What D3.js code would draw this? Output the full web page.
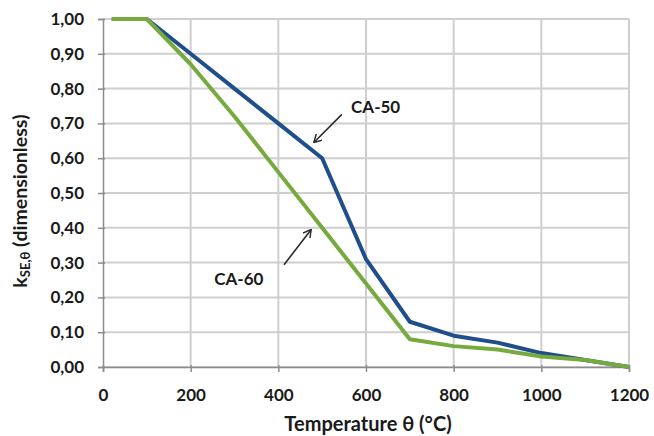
<!DOCTYPE html>
<html>
<head>
<meta charset="utf-8">
<title>ksE,θ</title>
<script src="https://cdn.jsdelivr.net/npm/d3@7"></script>
<style>
body { margin:0; background:#fff; }
svg text { font-family: Lato, "Open Sans", sans-serif; font-weight:700; fill:#1a1a1a; }
</style>
</head>
<body>
<div id="chart"></div>
<script>
var w=654,h=436;
var margin={left:103,right:25,top:19,bottom:69};

// data
var temps=[20,100,200,300,400,500,600,700,800,900,1000,1100,1200];
var ca50=[1.00,1.00,0.90,0.80,0.70,0.60,0.31,0.13,0.09,0.07,0.04,0.02,0.00];
var ca60=[1.00,1.00,0.87,0.72,0.56,0.40,0.24,0.08,0.06,0.05,0.03,0.02,0.00];
var xTicks=[0,200,400,600,800,1000,1200];
var yTicks=[0,0.1,0.2,0.3,0.4,0.5,0.6,0.7,0.8,0.9,1.0];

var svg=d3.select('#chart').append('svg')
  .attr('width',w).attr('height',h);

var x=d3.scaleLinear().domain([0,1200]).range([margin.left,w-margin.right]);
var y=d3.scaleLinear().domain([0,1]).range([h-margin.bottom,margin.top]);

// grid
svg.append('g').selectAll('line').data(yTicks).enter().append('line')
  .attr('x1',x(0)).attr('x2',x(1200))
  .attr('y1',function(d){return y(d);}).attr('y2',function(d){return y(d);})
  .attr('stroke','#cfcfcf').attr('stroke-width',2);
svg.append('g').selectAll('line').data(xTicks.slice(1)).enter().append('line')
  .attr('x1',function(d){return x(d);}).attr('x2',function(d){return x(d);})
  .attr('y1',y(0)).attr('y2',y(1))
  .attr('stroke','#cfcfcf').attr('stroke-width',2);

var fmt=function(d){return d3.format('.2f')(d).replace('.',',');};

var yAxis=svg.append('g').attr('transform','translate('+x(0)+',0)')
  .call(d3.axisLeft(y).tickValues(yTicks).tickFormat(fmt).tickSize(5).tickPadding(14));
var xAxis=svg.append('g').attr('transform','translate(0,'+y(0)+')')
  .call(d3.axisBottom(x).tickValues(xTicks).tickFormat(d3.format('d')).tickSize(5).tickPadding(17));
[yAxis,xAxis].forEach(function(a){
  a.select('.domain').attr('stroke','#8c8c8c').attr('stroke-width',1.5);
  a.selectAll('.tick line').attr('stroke','#8c8c8c').attr('stroke-width',1.5);
  a.selectAll('.tick text').style('font-size','17px').attr('fill','#1a1a1a');
});
yAxis.selectAll('.tick line').attr('x2',-5).attr('x1',2);
xAxis.selectAll('.tick line').attr('y1',-2);

// lines
var line=d3.line().x(function(d){return x(d[0]);}).y(function(d){return y(d[1]);});
svg.append('path').datum(d3.zip(temps,ca50)).attr('d',line)
  .attr('fill','none').attr('stroke','#1f4e8a').attr('stroke-width',4).attr('stroke-linejoin','round');
svg.append('path').datum(d3.zip(temps,ca60)).attr('d',line)
  .attr('fill','none').attr('stroke','#76aa3f').attr('stroke-width',4).attr('stroke-linejoin','round');

// annotations
var defs=svg.append('defs');
defs.append('marker').attr('id','arr').attr('viewBox','0 0 10 10')
  .attr('refX',9).attr('refY',5).attr('markerWidth',9).attr('markerHeight',9)
  .attr('orient','auto').attr('markerUnits','userSpaceOnUse')
  .append('path').attr('d','M0,0 L9,5 L0,10').attr('fill','none')
  .attr('stroke','#2b2b2b').attr('stroke-width',1.6);

svg.append('line').attr('x1',x(545)).attr('y1',y(0.726)).attr('x2',x(481)).attr('y2',y(0.645))
  .attr('stroke','#2b2b2b').attr('stroke-width',1.6).attr('marker-end','url(#arr)');
svg.append('text').attr('x',x(566)).attr('y',y(0.731)).text('CA-50').style('font-size','17px');

svg.append('line').attr('x1',x(413)).attr('y1',y(0.294)).attr('x2',x(475)).attr('y2',y(0.395))
  .attr('stroke','#2b2b2b').attr('stroke-width',1.6).attr('marker-end','url(#arr)');
svg.append('text').attr('x',x(310)).attr('y',y(0.236)).attr('text-anchor','middle').text('CA-60').style('font-size','17px');

// axis titles
svg.append('text').attr('x',368).attr('y',431).attr('text-anchor','middle')
  .style('font-size','20px').text('Temperature θ (°C)');

var yt=svg.append('text').attr('transform','translate(27,201) rotate(-90)')
  .attr('text-anchor','middle').style('font-size','19.5px');
yt.append('tspan').text('k');
yt.append('tspan').attr('dy',3).style('font-size','13px').text('SE,θ');
yt.append('tspan').attr('dy',-3).text(' (dimensionless)');
</script>
</body>
</html>
